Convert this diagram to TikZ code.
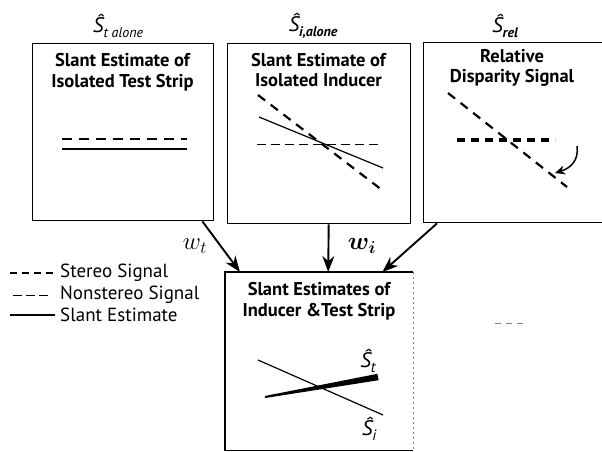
\documentclass[tikz,border=0pt]{standalone}
\usepackage{bm}
\usepackage{fontspec}
\setmainfont{PT Sans}
\usetikzlibrary{arrows.meta}
\begin{document}
\begin{tikzpicture}[x=1pt,y=-1pt,
  box/.style={draw,line width=1.4pt,inner sep=0pt,anchor=north west},
  ttl/.style={align=center,font=\fontsize{18.5}{20.5}\selectfont\bfseries,inner sep=0pt},
  flow/.style={line width=1.9pt,-{Stealth[length=16pt,width=12pt]}},
  stereo/.style={line width=2.2pt,dash pattern=on 9pt off 7pt},
  nonstereo/.style={line width=0.8pt,dash pattern=on 9pt off 5pt},
  slant/.style={line width=1.2pt},
  leg/.style={anchor=west,font=\fontsize{19}{19}\selectfont,inner sep=0pt},
  est/.style={font=\fontsize{21}{21}\selectfont\itshape,inner sep=0pt}
]
\useasboundingbox (0,0) rectangle (602,452);
% top boxes
\node[box,minimum width=181pt,minimum height=177pt] (b1) at (32,43) {};
\node[box,minimum width=183pt,minimum height=180pt] (b2) at (227,43) {};
\node[box,minimum width=190pt,minimum height=180pt] (b3) at (423,42) {};
% bottom box (right side faint)
\node[inner sep=0pt,anchor=north west,minimum width=188pt,minimum height=178pt] (bot) at (225,272) {};
\draw[line width=1.4pt] (bot.north east) -- (bot.north west) -- (bot.south west) -- (bot.south east);
\draw[line width=0.8pt,gray,dash pattern=on 2pt off 3pt] (bot.north east) -- (bot.south east);

% top labels
\node[est] (l1) at (118,26) {\^{S}\raisebox{-0.45ex}{\fontsize{14}{14}\selectfont t alone}};
\node[est] (l2) at (313,26) {\^{S}\raisebox{-0.45ex}{\fontsize{14}{14}\selectfont\bfseries i,alone}};
\node[est] (l3) at (505,26) {\^{S}\raisebox{-0.45ex}{\fontsize{14}{14}\selectfont\bfseries rel}};

% titles
\node[ttl] (t1) at (122.5,72) {Slant Estimate of\\Isolated Test Strip};
\node[ttl] (t2) at (318.5,70) {Slant Estimate of\\Isolated Inducer};
\node[ttl] (t3) at (512,68) {Relative\\Disparity Signal};
\node[ttl] (t4) at (319,301) {Slant Estimates of\\Inducer \&Test Strip};

% box 1 contents
\draw[stereo,line width=1.8pt,dash pattern=on 10pt off 7pt] (62,139) -- (187,139);
\draw[slant] (62,149) -- (187,149);

% box 2 contents
\draw[stereo] (258,95) -- (382,190);
\draw[slant] (259,117) -- (383,168);
\draw[nonstereo] (257,144) -- (382,144);

% box 3 contents
\draw[stereo] (448,93) -- (567,187);
\draw[line width=3.2pt,dash pattern=on 8pt off 6pt] (457,140) -- (555,140);
\draw[line width=1.5pt,-{Stealth[length=10pt,width=9pt]}] (577,146) .. controls (579,160) and (571,168) .. (555,173);

% bottom box contents
\draw[slant] (258,360) -- (383,415);
\fill (264.8,396.0) -- (265.2,398.0) -- (378.6,380.2) -- (377.4,373.8) -- cycle;
\node[est] (st) at (368,361) {\^{S}\raisebox{-0.45ex}{\fontsize{15}{15}\selectfont t}};
\node[est] (si) at (369,429) {\^{S}\raisebox{-0.45ex}{\fontsize{15}{15}\selectfont i}};

% arrows
\draw[flow] ([xshift=-12pt]b1.south east) -- ([xshift=15pt]bot.north west);
\draw[flow] ([xshift=9.5pt]b2.south) -- ([xshift=9pt]bot.north);
\draw[flow] ([xshift=14pt]b3.south west) -- ([xshift=-31pt]bot.north east);
\node[font=\fontsize{25}{25}\selectfont] (wt) at (195,246) {$w_t$};
\node[font=\fontsize{24}{24}\selectfont] (wi) at (362,246) {$\bm{w_i}$};

% legend
\draw[line width=1.6pt,dash pattern=on 7pt off 5pt] (10,273) -- (58,273);
\node[leg] (g1) at (60,273) {Stereo Signal};
\draw[line width=0.8pt,dash pattern=on 9pt off 4pt] (13,295) -- (50,295);
\node[leg] (g2) at (60,295) {Nonstereo Signal};
\draw[line width=1.2pt] (10,315) -- (55,315);
\node[leg] (g3) at (60,315) {Slant Estimate};

% stray scan mark
\draw[line width=0.8pt,gray,dash pattern=on 6pt off 5pt] (495,323) -- (527,323);
\end{tikzpicture}
\end{document}
